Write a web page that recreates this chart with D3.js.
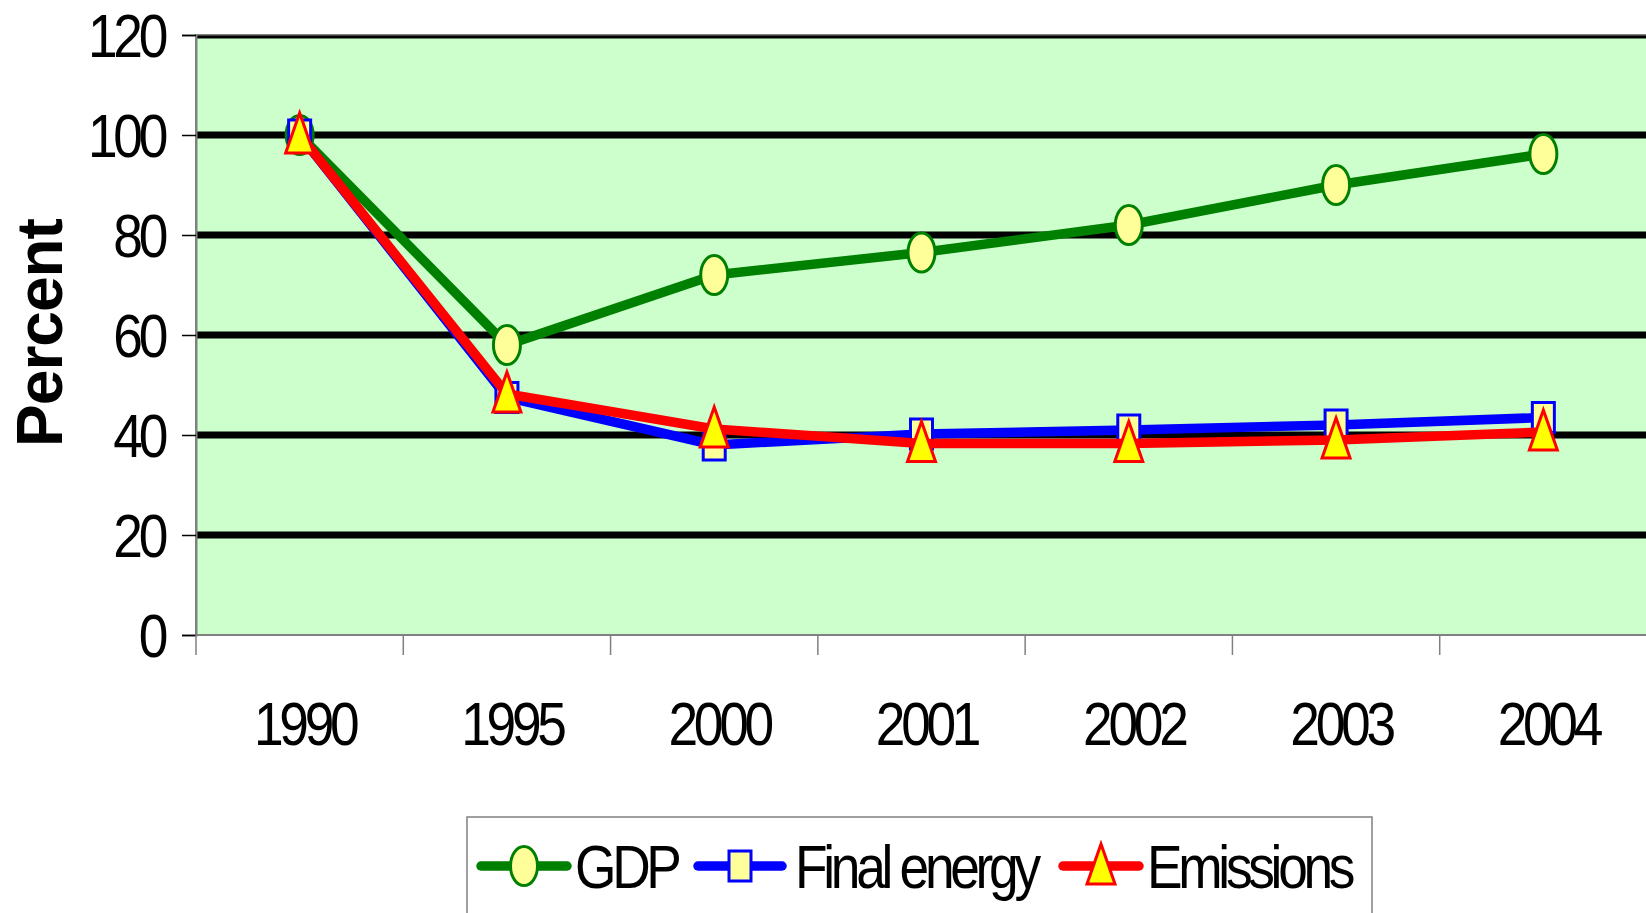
<!DOCTYPE html>
<html>
<head>
<meta charset="utf-8">
<script src="https://cdn.jsdelivr.net/npm/d3@7"></script>
<style>
  body { margin: 0; background: #fff; }
  text { font-family: Arial, "Liberation Sans", sans-serif; }
</style>
</head>
<body>
<div id="chart"></div>
<script>
// Data (index, 1990 = 100)
const years = ['1990', '1995', '2000', '2001', '2002', '2003', '2004'];
const gdp = [100, 58, 72, 76.5, 82, 90, 96.2];
const finalEnergy = [100, 47.5, 38, 40.2, 41, 42, 43.5];
const emissions = [100, 48.2, 41.2, 38.3, 38.3, 39, 40.6];
const yTicks = [0, 20, 40, 60, 80, 100, 120];

const width = 1646, height = 913;
const plot = { left: 196, right: 1647, top: 35, bottom: 635 };
const squeeze = 0.86; // the original text is horizontally condensed

const svg = d3.select('#chart').append('svg')
    .attr('width', width)
    .attr('height', height);

const x = d3.scaleBand()
    .domain(years)
    .range([plot.left, plot.right])
    .padding(0);

const y = d3.scaleLinear()
    .domain([0, 120])
    .range([plot.bottom, plot.top]);

const cx = d => x(d) + x.bandwidth() / 2;

// condensed text placed at (tx, ty)
function label(g, tx, ty, str, anchor, size, spacing) {
    return g.append('text')
        .attr('transform', `translate(${tx},${ty}) scale(${squeeze},1)`)
        .attr('text-anchor', anchor)
        .style('font-size', size + 'px')
        .style('letter-spacing', spacing + 'px')
        .text(str);
}

// Plot background
svg.append('rect')
    .attr('x', plot.left)
    .attr('y', plot.top)
    .attr('width', plot.right - plot.left)
    .attr('height', plot.bottom - plot.top)
    .attr('fill', '#ccffcc')
    .attr('stroke', '#808080')
    .attr('stroke-width', 2);

// Gridlines
svg.append('g')
    .selectAll('line')
    .data(yTicks.filter(t => t > 0))
    .join('line')
    .attr('x1', plot.left)
    .attr('x2', plot.right)
    .attr('y1', d => y(d) + (d === 120 ? 2 : 0))
    .attr('y2', d => y(d) + (d === 120 ? 2 : 0))
    .attr('stroke', '#000')
    .attr('stroke-width', d => d === 120 ? 3 : 7);

// Y axis
const yAxis = svg.append('g')
    .attr('transform', `translate(${plot.left},0)`)
    .call(d3.axisLeft(y).tickValues(yTicks).tickSize(14).tickFormat(''));
yAxis.select('.domain').attr('stroke', '#808080').attr('stroke-width', 2);
yAxis.selectAll('.tick line').attr('stroke', '#000').attr('stroke-width', 1.5);

const yLabels = svg.append('g');
yTicks.forEach(t => {
    label(yLabels, 164, y(t) + 22, t, 'end', 62, -5);
});

// X axis: line, boundary ticks, labels
svg.append('line')
    .attr('x1', plot.left).attr('x2', plot.right)
    .attr('y1', plot.bottom).attr('y2', plot.bottom)
    .attr('stroke', '#808080').attr('stroke-width', 2);

svg.append('g')
    .selectAll('line')
    .data(years)
    .join('line')
    .attr('x1', d => x(d)).attr('x2', d => x(d))
    .attr('y1', plot.bottom).attr('y2', plot.bottom + 20)
    .attr('stroke', '#808080').attr('stroke-width', 1.5);

const xLabels = svg.append('g');
years.forEach(yr => {
    label(xLabels, cx(yr) + 5, 745, yr, 'middle', 62, -5);
});

// Y title
svg.append('text')
    .attr('transform', `translate(62,333) rotate(-90)`)
    .attr('text-anchor', 'middle')
    .style('font-size', '64px')
    .style('font-weight', 'bold')
    .style('letter-spacing', '-1px')
    .text('Percent');

// Series
const series = [
    { name: 'GDP', values: gdp, color: '#008000', marker: 'circle', fill: '#ffff99' },
    { name: 'Final energy', values: finalEnergy, color: '#0000ff', marker: 'square', fill: '#ffff99' },
    { name: 'Emissions', values: emissions, color: '#ff0000', marker: 'triangle', fill: '#ffff00' }
];

const line = d3.line()
    .x((d, i) => cx(years[i]))
    .y(d => y(d));

function drawMarker(g, s, px, py) {
    if (s.marker === 'circle') {
        g.append('ellipse')
            .attr('cx', px).attr('cy', py)
            .attr('rx', 13.5).attr('ry', 19.5)
            .attr('fill', s.fill).attr('stroke', s.color).attr('stroke-width', 3);
    } else if (s.marker === 'square') {
        g.append('rect')
            .attr('x', px - 11).attr('y', py - 15)
            .attr('width', 22).attr('height', 30)
            .attr('fill', s.fill).attr('stroke', s.color).attr('stroke-width', 3);
    } else {
        g.append('path')
            .attr('d', `M${px},${py - 22}L${px + 14},${py + 18}L${px - 14},${py + 18}Z`)
            .attr('fill', s.fill).attr('stroke', s.color).attr('stroke-width', 3)
            .attr('stroke-linejoin', 'miter');
    }
}

series.forEach(s => {
    const g = svg.append('g');
    g.append('path')
        .datum(s.values)
        .attr('d', line)
        .attr('fill', 'none')
        .attr('stroke', s.color)
        .attr('stroke-width', 9.5)
        .attr('stroke-linejoin', 'round');
    s.values.forEach((v, i) => drawMarker(g, s, cx(years[i]), y(v)));
});

// Legend
const legend = svg.append('g');
legend.append('rect')
    .attr('x', 467).attr('y', 817)
    .attr('width', 905).attr('height', 130)
    .attr('fill', '#fff')
    .attr('stroke', '#808080')
    .attr('stroke-width', 1.5);

const legendItems = [
    { s: series[0], x0: 481, x1: 567, tx: 575 },
    { s: series[1], x0: 698, x1: 782, tx: 795 },
    { s: series[2], x0: 1063, x1: 1139, tx: 1147 }
];
legendItems.forEach(item => {
    const ly = 866;
    const g = legend.append('g');
    g.append('line')
        .attr('x1', item.x0).attr('x2', item.x1)
        .attr('y1', ly).attr('y2', ly)
        .attr('stroke', item.s.color)
        .attr('stroke-width', 9.5)
        .attr('stroke-linecap', 'round');
    drawMarker(g, item.s, (item.x0 + item.x1) / 2, ly);
    label(g, item.tx, ly + 22, item.s.name, 'start', 62, -5);
});
</script>
</body>
</html>
